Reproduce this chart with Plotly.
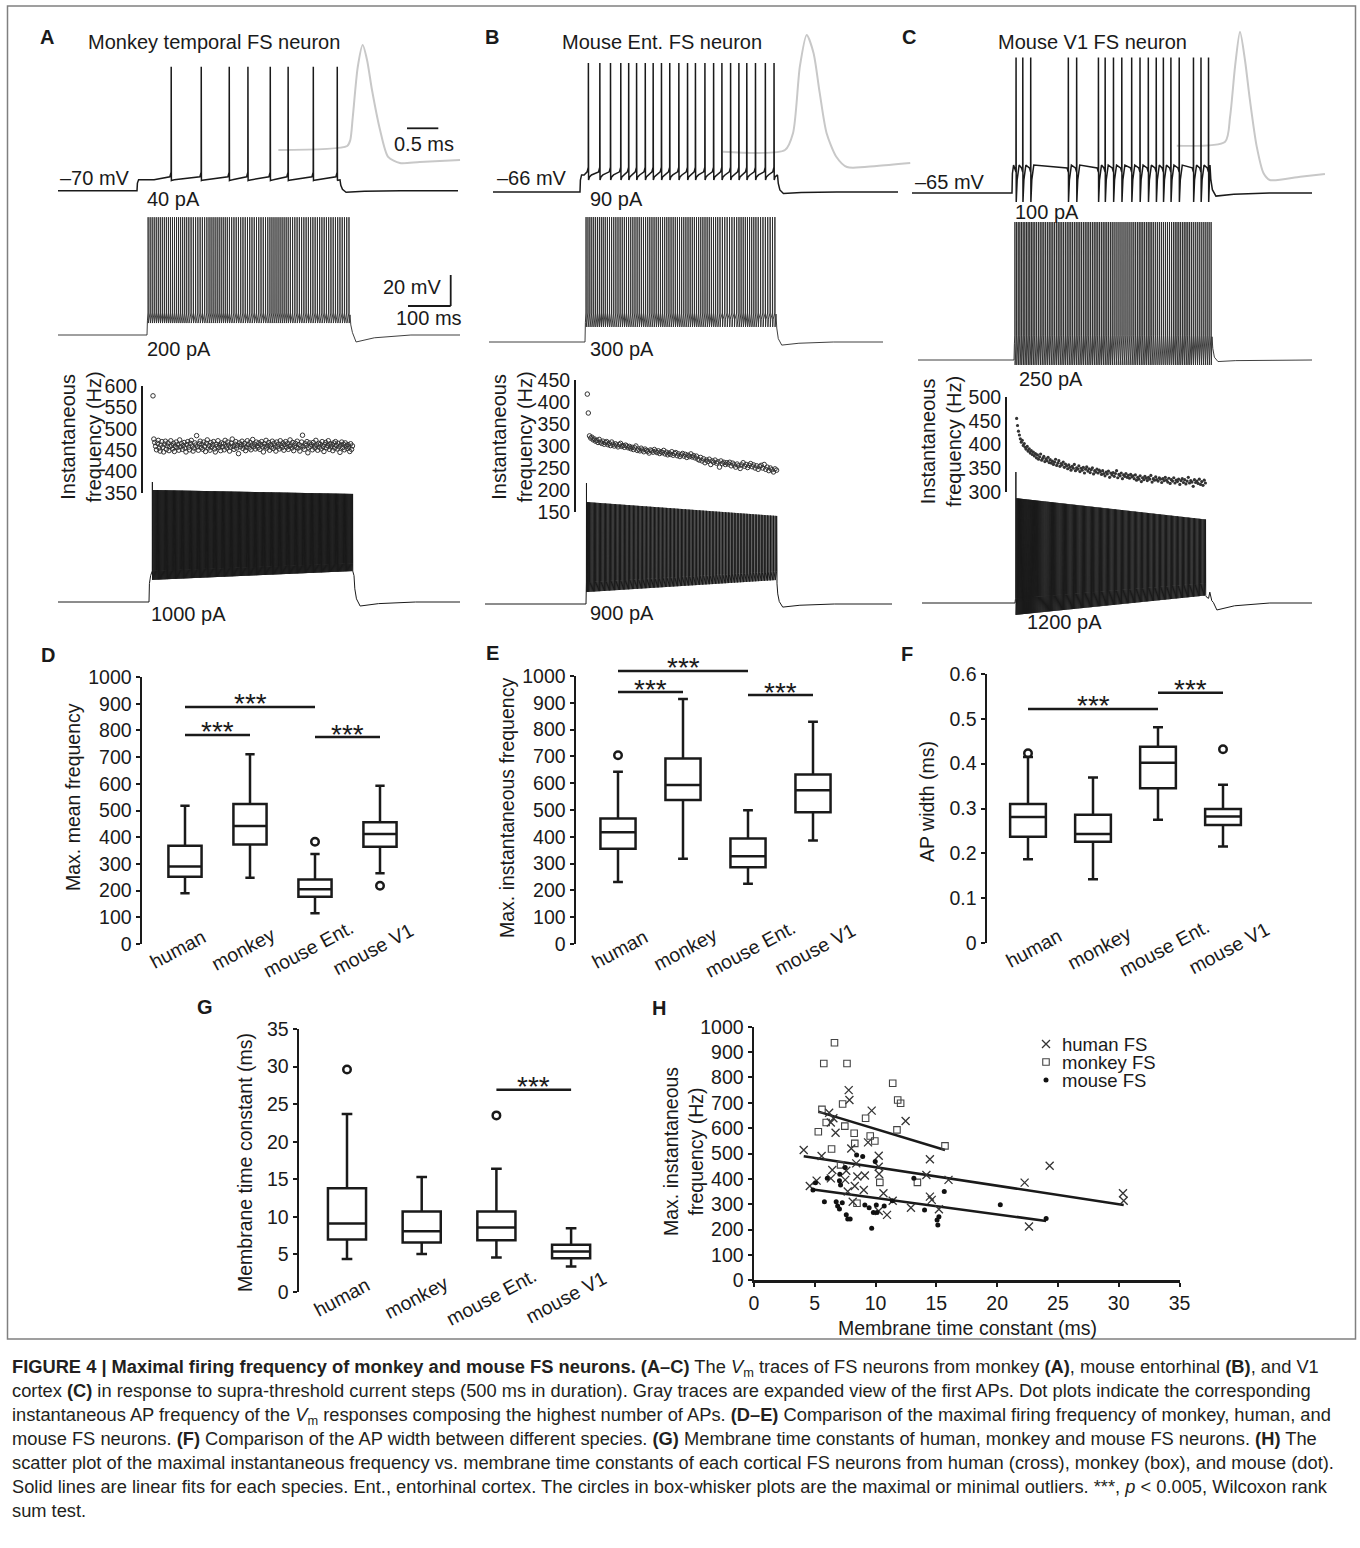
import plotly.graph_objects as go

W, H = 1360, 1548
FONT = "Liberation Sans, Arial, Helvetica, sans-serif"
INK = "#1a1a1a"
AP_GRAY = "#c8c8c8"

# ============================ DATA ============================
# ---- Panels A-C
A_title, B_title, C_title = "Monkey temporal FS neuron", "Mouse Ent. FS neuron", "Mouse V1 FS neuron"
A_rest_label, B_rest_label, C_rest_label = "–70 mV", "–66 mV", "–65 mV"
A_steps = ["40 pA", "200 pA", "1000 pA"]
B_steps = ["90 pA", "300 pA", "900 pA"]
C_steps = ["100 pA", "250 pA", "1200 pA"]

# near-threshold responses: spike times (ms after current onset)
A_top_spikes_ms = [84, 158, 227, 273, 328, 372, 434, 493]
B_top_spikes_ms = [21, 50, 77, 103, 123, 143, 165, 185, 206, 227, 250, 272,
                   292, 316, 338, 359, 381, 402, 422, 444, 469, 491]
C_top_spikes_ms = [10, 27, 47, 142, 163, 218, 235, 256, 277, 302, 323, 344,
                   364, 382, 401, 422, 458, 477, 496]

# intermediate responses: number of spikes in successive 50-ms bins of the 500-ms step
A_mid_counts = [10, 10, 9, 10, 9, 9, 10, 9, 9, 9]
B_mid_counts = [10, 9, 9, 9, 9, 9, 9, 8, 9, 8]
C_mid_counts = [12, 11, 11, 11, 11, 10, 11, 10, 11, 10]

# strongest responses: latency of the first AP (ms) and instantaneous frequency (Hz) of each later AP
A_first_ms = 8
A_freq_hz = [577, 476, 468, 459, 451, 466, 473, 455, 448, 462, 470, 457, 446, 464, 471, 452, 460, 467, 449, 458,
             472, 461, 453, 466, 447, 459, 469, 456, 463, 450, 474, 458, 465, 452, 461, 468, 455, 446, 463, 470,
             457, 451, 466, 473, 460, 448, 455, 467, 462, 484, 458, 450, 465, 471, 456, 463, 452, 469, 459, 447,
             466, 474, 455, 461, 450, 468, 457, 463, 470, 453, 446, 464, 459, 472, 456, 462, 449, 467, 458, 465,
             451, 473, 460, 455, 469, 462, 448, 457, 466, 476, 459, 452, 464, 470, 455, 461, 442, 467, 458, 463,
             471, 454, 460, 466, 449, 457, 472, 463, 455, 468, 451, 462, 475, 458, 464, 453, 469, 460, 456, 467,
             452, 463, 470, 458, 446, 465, 459, 473, 455, 461, 468, 450, 463, 457, 471, 454, 466, 460, 448, 469,
             458, 464, 453, 472, 461, 456, 467, 450, 463, 470, 457, 465, 452, 459, 474, 462, 455, 468, 449, 460,
             466, 457, 471, 455, 463, 448, 460, 469, 485, 458, 452, 465, 461, 470, 444, 456, 467, 459, 463, 451,
             468, 460, 455, 473, 462, 450, 466, 457, 464, 453, 470, 459, 447, 463, 468, 456, 461, 472, 452, 465,
             458, 463, 449, 467, 455, 470, 461, 453, 466, 458, 445, 462, 469, 456, 464, 451, 467, 460, 454, 463,
             458, 447, 465, 452, 460]
B_first_ms = 1
B_freq_hz = [418, 375,
             323, 318, 320, 314, 316, 311, 313, 308, 315, 309, 306, 311, 304, 308, 310, 303, 306, 301, 309, 304,
             300, 305, 302, 298, 303, 306, 299, 301, 297, 302, 300, 296,
             299, 294, 297, 292, 296, 300, 290, 293, 289, 295, 291, 287, 293, 290, 288, 284, 291, 289, 286, 292,
             288, 285, 289, 283, 287,
             285, 290, 282, 286, 280, 284, 281, 287, 279, 283, 285, 278, 282, 276, 280, 283, 277, 281, 274, 279,
             276, 282, 275, 278,
             273, 277, 270, 268, 274, 266, 271, 262, 268, 265, 270, 258, 266, 263, 268, 261, 264, 252, 266, 260,
             263, 258, 262,
             259, 263, 255, 261, 257, 252, 259, 255, 249, 257, 262, 254, 258, 251, 256, 260, 253, 257, 250, 255,
             247, 253,
             256, 250, 258, 247, 252, 244, 250, 246, 241, 248, 245]
C_first_ms = 2
C_freq_hz = [455, 440, 428,
             420, 412, 405, 409, 398, 402, 394, 390, 396, 386, 391, 382, 387, 379, 384,
             376, 381, 372, 378, 369, 374, 380, 367, 371, 375, 364, 370, 366, 373, 362,
             368, 361, 365, 358, 363, 369, 356, 361, 366, 354, 360, 357, 363, 352, 359,
             355, 349, 357, 352, 346, 354, 350, 358, 345, 351, 348, 355, 343, 350, 346, 352, 340, 348, 353, 344,
             349, 341, 347, 351, 338, 345, 342, 348, 340, 346,
             343, 337, 345, 339, 334, 342, 338, 344, 331, 340, 336, 341, 333, 339, 345, 330, 337, 334, 340, 328,
             336, 333, 339, 331, 335, 329, 337, 332,
             334, 328, 336, 325, 331, 327, 334, 322, 330, 326, 333, 329, 324, 331, 327, 335, 321, 328, 325, 332,
             326, 323, 330, 327, 320, 328, 324, 331,
             325, 321, 329, 318, 326, 323, 330, 319, 325, 322, 327, 316, 324, 328, 320, 326, 317, 323, 331, 319,
             324, 321, 312, 326, 320, 323, 318,
             327, 316, 322, 314, 325, 319]

# gray traces: first AP, time (ms, 0 = peak) and membrane potential (mV)
A_ap_t = [-1.36, -0.25, -0.20, -0.16, -0.08, 0.0, 0.07, 0.15, 0.28, 0.41, 0.60, 0.92, 1.57]
A_ap_v = [-55.0, -52.4, -48.5, -33.7, -1.5, 12.7, 3.1, -16.3, -42.1, -59.5, -63.4, -62.7, -61.5]
B_ap_t = [-1.35, -0.35, -0.22, -0.11, 0.0, 0.11, 0.21, 0.32, 0.48, 0.65, 1.13, 1.67]
B_ap_v = [-55.0, -53.9, -42.9, 0.0, 20.3, 8.7, -17.1, -42.9, -58.4, -64.9, -64.2, -62.3]
C_ap_t = [-1.02, -0.24, -0.16, -0.08, 0.0, 0.08, 0.16, 0.27, 0.38, 0.48, 0.97, 1.37]
C_ap_v = [-55.0, -52.4, -36.3, -4.0, 18.5, 0.3, -25.5, -55.6, -72.8, -77.1, -75.0, -73.3]

# ---- Panels D-G: box-whisker statistics
groups = ["human", "monkey", "mouse Ent.", "mouse V1"]
D_lower = [190, 248, 115, 265]
D_q1 = [252, 373, 177, 364]
D_median = [290, 442, 205, 412]
D_q3 = [368, 524, 242, 456]
D_upper = [518, 711, 337, 593]
D_out_group, D_out_value = [2, 3], [383, 218]
D_sig = [(0, 2, 888), (0, 1, 783), (2, 3, 775)]

E_lower = [231, 318, 225, 386]
E_q1 = [355, 537, 286, 492]
E_median = [417, 593, 327, 574]
E_q3 = [468, 692, 394, 632]
E_upper = [643, 914, 499, 829]
E_out_group, E_out_value = [0], [704]
E_sig = [(0, 2, 1019), (0, 1, 940), (2, 3, 929)]

F_lower = [0.187, 0.142, 0.275, 0.215]
F_q1 = [0.237, 0.226, 0.345, 0.263]
F_median = [0.281, 0.243, 0.402, 0.282]
F_q3 = [0.310, 0.286, 0.438, 0.299]
F_upper = [0.415, 0.369, 0.481, 0.353]
F_out_group, F_out_value = [0, 3], [0.423, 0.432]
F_sig = [(0, 2, 0.522), (2, 3, 0.558)]

G_lower = [4.4, 5.05, 4.6, 3.4]
G_q1 = [7.0, 6.6, 6.9, 4.5]
G_median = [9.1, 8.1, 8.6, 5.4]
G_q3 = [13.8, 10.7, 10.7, 6.3]
G_upper = [23.7, 15.3, 16.4, 8.5]
G_out_group, G_out_value = [0, 2], [29.6, 23.5]
G_sig = [(2, 3, 26.9)]

# ---- Panel H: membrane time constant (ms) vs max. instantaneous frequency (Hz)
human_tau = [7.79, 7.85, 9.68, 12.47, 6.18, 6.53, 6.32, 6.71, 9.38, 8.0, 4.09, 5.56, 10.26, 8.41, 14.47,
             6.44, 7.59, 10.26, 10.29, 9.12, 8.5, 6.32, 7.5, 5.15, 14.18, 16.0, 4.59, 8.29, 7.71, 9.03,
             10.65, 14.47, 14.62, 8.12, 11.41, 12.91, 15.21, 10.26, 10.94, 22.26, 24.32, 22.62, 30.35, 30.41]
human_freq = [750, 711, 669, 628, 661, 639, 622, 582, 544, 520, 514, 490, 491, 461, 477,
              435, 432, 448, 419, 413, 409, 402, 396, 393, 415, 396, 372, 372, 350, 356,
              343, 330, 317, 310, 314, 286, 280, 273, 258, 385, 452, 212, 343, 314]
monkey_tau = [6.62, 5.74, 7.65, 11.41, 7.29, 11.82, 12.06, 5.59, 9.18, 5.94, 5.29, 7.47, 8.24, 11.76,
              9.56, 8.29, 9.94, 6.38, 15.71, 7.12, 10.35, 13.44, 8.47]
monkey_freq = [937, 855, 855, 777, 695, 711, 698, 674, 639, 622, 586, 608, 580, 593,
               569, 540, 549, 518, 530, 455, 386, 386, 304]
mouse_tau = [8.44, 8.94, 9.97, 7.5, 7.06, 6.03, 7.03, 7.12, 13.15, 4.85, 5.06, 15.65, 5.79, 6.76, 6.88,
             7.26, 7.03, 9.12, 9.47, 10.06, 10.71, 9.82, 10.12, 11.38, 7.59, 7.71, 7.91, 9.68, 14.03,
             15.21, 15.06, 15.12, 20.26, 24.03]
mouse_freq = [494, 488, 468, 445, 418, 402, 393, 376, 402, 356, 385, 350, 310, 310, 293,
              306, 281, 297, 286, 297, 293, 267, 267, 314, 258, 242, 242, 205, 277,
              251, 238, 218, 298, 244]
# linear fits (slope Hz/ms, intercept Hz) as drawn
human_fit = (-7.32, 519.5)
monkey_fit = (-14.49, 741.7)
mouse_fit = (-6.47, 389.5)

CAPTION = [
    "<b>FIGURE 4 | Maximal firing frequency of monkey and mouse FS neurons. (A–C)</b> The <i>V</i><sub>m</sub> traces of FS neurons from monkey <b>(A)</b>, mouse entorhinal <b>(B)</b>, and V1",
    "cortex <b>(C)</b> in response to supra-threshold current steps (500 ms in duration). Gray traces are expanded view of the first APs. Dot plots indicate the corresponding",
    "instantaneous AP frequency of the <i>V</i><sub>m</sub> responses composing the highest number of APs. <b>(D–E)</b> Comparison of the maximal firing frequency of monkey, human, and",
    "mouse FS neurons. <b>(F)</b> Comparison of the AP width between different species. <b>(G)</b> Membrane time constants of human, monkey and mouse FS neurons. <b>(H)</b> The",
    "scatter plot of the maximal instantaneous frequency vs. membrane time constants of each cortical FS neurons from human (cross), monkey (box), and mouse (dot).",
    "Solid lines are linear fits for each species. Ent., entorhinal cortex. The circles in box-whisker plots are the maximal or minimal outliers. ***, <i>p</i> &lt; 0.005, Wilcoxon rank",
    "sum test.",
]

# ============================ FIGURE MACHINERY ============================
traces, annotations, shapes = [], [], []
layout = dict(width=W, height=H, autosize=False, margin=dict(l=0, r=0, t=0, b=0, pad=0, autoexpand=False),
              paper_bgcolor="white", plot_bgcolor="rgba(0,0,0,0)", showlegend=False,
              font=dict(family=FONT, size=20, color=INK), hovermode=False)
_n = [0]


def new_axes(left, top, right, bottom, xrange, yrange, xo=None, yo=None):
    _n[0] += 1
    s = "" if _n[0] == 1 else str(_n[0])
    base = dict(showgrid=False, zeroline=False, showline=False, showticklabels=False,
                ticks="", fixedrange=True, automargin=False)
    xd = dict(base, domain=[left / W, right / W], range=list(xrange), anchor="y" + s)
    yd = dict(base, domain=[1 - bottom / H, 1 - top / H], range=list(yrange), anchor="x" + s)
    if xo:
        xd.update(xo)
    if yo:
        yd.update(yo)
    layout["xaxis" + s] = xd
    layout["yaxis" + s] = yd
    return "x" + s, "y" + s


def scaled_axes(box, x_val, x_px, sx, y_val, y_px, sy):
    left, top, right, bottom = box
    xr = [x_val + (left - x_px) / sx, x_val + (right - x_px) / sx]
    yr = [y_val - (bottom - y_px) / sy, y_val + (y_px - top) / sy]
    return new_axes(left, top, right, bottom, xr, yr)


def label(x, y, text, size=20, xanchor="left", yanchor="middle", angle=0, color=INK):
    annotations.append(dict(x=x / W, y=1 - y / H, xref="paper", yref="paper", text=text,
                            showarrow=False, xanchor=xanchor, yanchor=yanchor, textangle=angle,
                            font=dict(family=FONT, size=size, color=color)))


def pline(x0, y0, x1, y1, width=1.6, color=INK):
    shapes.append(dict(type="line", xref="paper", yref="paper", x0=x0 / W, y0=1 - y0 / H,
                       x1=x1 / W, y1=1 - y1 / H, line=dict(color=color, width=width)))


def spikes_from_counts(counts, bin_ms=50.0):
    out = []
    for b, n in enumerate(counts):
        for k in range(n):
            out.append(b * bin_ms + (k + 0.5) * bin_ms / n)
    return out


def spikes_from_freq(first, freqs):
    t = [float(first)]
    for f in freqs:
        t.append(t[-1] + 1000.0 / f)
    return t


def vm_trace(spikes, p, t_start, t_end, t_off=500.0):
    rest = p["rest"]

    def env(key, t):
        v = p[key]
        if isinstance(v, tuple):
            f = min(max(t / t_off, 0.0), 1.0)
            return v[0] + (v[1] - v[0]) * f
        return v

    spk = [s for s in spikes if 0 < s < t_off - 0.8]
    first = spk[0] if spk else t_off
    pl0 = env("plat", 0)
    T, V = [t_start, 0.0], [rest, rest]
    for tt, vv in [(1.0, rest + 0.7 * (pl0 - rest)), (4.0, pl0)]:
        if tt < first - 0.3:
            T.append(tt)
            V.append(vv)
    if spk and first > 12:
        T += [first * 0.5, first - 3]
        V += [env("plat", first * 0.5), env("plat", first) + 0.4 * (env("thr", first) - env("plat", first))]
    for i, s in enumerate(spk):
        pk = p["peak1"] if (i == 0 and "peak1" in p) else env("peak", s)
        ah, pl = env("ahp", s), env("plat", s)
        T += [s, s + 0.25, s + 0.7]
        V += [env("thr", s), pk, ah]
        nxt = spk[i + 1] if i + 1 < len(spk) else t_off
        gap = nxt - s
        if gap > 6:
            T.append(s + min(3.0, 0.3 * gap))
            V.append(ah + 0.6 * (pl - ah))
        if gap > 14:
            T += [s + 8.0, nxt - 3.0]
            V += [pl, pl + 0.4 * (env("thr", nxt) - pl)]
    plE = env("plat", t_off)
    u = p["under"]
    T += [t_off, t_off + 2, t_off + 6, t_off + 15, t_off + 60, t_off + 150, t_end]
    V += [plE, rest + 0.5 * (plE - rest), rest + 0.12 * (plE - rest), u, rest + 0.4 * (u - rest), rest, rest]
    return T, V


MV_PX = 1.55   # px per mV (20 mV bar = 31 px)
AP_PX = 62.0   # px per ms in the gray insets (0.5 ms bar = 31 px)

# waveform levels (mV) of each response
A_top_p = dict(rest=-70, plat=-63, thr=-58, ahp=-63.5, peak=10, under=-71)
A_mid_p = dict(rest=-70, plat=-57, thr=-55.8, ahp=-62.3, peak=6, under=-74.5)
A_bot_p = dict(rest=-70, plat=-53, thr=(-50, -45), ahp=(-55.8, -50), peak=(2.3, -0.3), peak1=7.4, under=-72.6)
B_top_p = dict(rest=-66, plat=-55, thr=-50, ahp=-58.3, peak=17.2, under=-67)
B_mid_p = dict(rest=-66, plat=-48, thr=-47.3, ahp=-56.3, peak=14.6, under=-68)
B_bot_p = dict(rest=-66, plat=-53, thr=(-52, -45), ahp=(-58.3, -50.5), peak=(-0.2, -9.2), peak1=12, under=-68)
C_top_p = dict(rest=-65, plat=-47, thr=-51.5, ahp=-70.8, peak=22.5, under=-67)
C_mid_p = dict(rest=-65, plat=-50, thr=-49, ahp=-68.2, peak=24, under=-66)
C_bot_p = dict(rest=-65, plat=-62, thr=(-62, -52), ahp=(-72.7, -59.8), peak=(2.7, -11.5), peak1=19.5, under=-69.5)

# ------------------------------------------------------------------------------------------
columns = [
    dict(box=(40, 25, 468, 640), letter="A", letter_xy=(47, 37), title=A_title, title_x=213.5,
         rest_label=A_rest_label, steps=A_steps,
         top=(A_top_spikes_ms, A_top_p, 137, 190.7, 0.406, 58, 458),
         mid=(spikes_from_counts(A_mid_counts), A_mid_p, 147, 335, 0.406, 58, 460),
         bot=(A_first_ms, A_freq_hz, A_bot_p, 149, 602, 0.41, 58, 460),
         rest_xy=(58, 178), step_xy=[(145, 199), (145, 349), (149, 614)],
         ap=(A_ap_t, A_ap_v, (268, 25, 466, 185), 362.7, 150.0),
         dots=dict(left=143, right=462, top=386, bottom=493, rng=(350, 600), symbol="circle-open", size=4.5),
         ytitle_xy=(80.5, 437)),
    dict(box=(478, 25, 905, 640), letter="B", letter_xy=(492, 37), title=B_title, title_x=661.7,
         rest_label=B_rest_label, steps=B_steps,
         top=(B_top_spikes_ms, B_top_p, 580, 192, 0.395, 493, 898),
         mid=(spikes_from_counts(B_mid_counts), B_mid_p, 585, 342, 0.382, 489, 883),
         bot=(B_first_ms, B_freq_hz, B_bot_p, 586, 604, 0.382, 485, 892),
         rest_xy=(495, 178), step_xy=[(588, 199), (588, 349), (588, 613)],
         ap=(B_ap_t, B_ap_v, (712, 20, 918, 185), 806.7, 151.7),
         dots=dict(left=576, right=900, top=380, bottom=512, rng=(150, 450), symbol="circle-open", size=4.5),
         ytitle_xy=(511.5, 437)),
    dict(box=(905, 25, 1345, 640), letter="C", letter_xy=(909, 37), title=C_title, title_x=1092,
         rest_label=C_rest_label, steps=C_steps,
         top=(C_top_spikes_ms, C_top_p, 1012, 193, 0.396, 912, 1312),
         mid=(spikes_from_counts(C_mid_counts), C_mid_p, 1014, 360, 0.396, 918, 1312),
         bot=(C_first_ms, C_freq_hz, C_bot_p, 1015, 603, 0.392, 922, 1312),
         rest_xy=(913, 182), step_xy=[(1013, 212), (1017, 379), (1025, 622)],
         ap=(C_ap_t, C_ap_v, (1168, 18, 1340, 192), 1240.0, 145.7),
         dots=dict(left=1007, right=1340, top=397, bottom=492, rng=(300, 500), symbol="circle", size=3.2),
         ytitle_xy=(941, 442)),
]

for col in columns:
    # gray expanded first AP (drawn first, behind the black traces)
    ap_t, ap_v, ap_box, ap_x0, ap_y0 = col["ap"]
    xa, ya = scaled_axes(ap_box, 0.0, ap_x0, AP_PX, -55.0, ap_y0, MV_PX)
    traces.append(go.Scatter(x=ap_t, y=ap_v, mode="lines", xaxis=xa, yaxis=ya, hoverinfo="skip",
                             line=dict(color=AP_GRAY, width=2, shape="spline", smoothing=0.7)))
    # near-threshold and intermediate responses
    for key, lw, lc in (("top", 1.5, INK), ("mid", 0.9, "#2a2a2a")):
        spk, p, on_px, rest_py, sx, x_a, x_b = col[key]
        xa, ya = scaled_axes(col["box"], 0.0, on_px, sx, p["rest"], rest_py, MV_PX)
        T, V = vm_trace(spk, p, (x_a - on_px) / sx, (x_b - on_px) / sx)
        traces.append(go.Scatter(x=T, y=V, mode="lines", xaxis=xa, yaxis=ya, hoverinfo="skip",
                                 line=dict(color=lc, width=lw)))
    # strongest response + instantaneous-frequency dot plot
    first, freqs, p, on_px, rest_py, sx, x_a, x_b = col["bot"]
    spk = spikes_from_freq(first, freqs)
    xa, ya = scaled_axes(col["box"], 0.0, on_px, sx, p["rest"], rest_py, MV_PX)
    T, V = vm_trace(spk, p, (x_a - on_px) / sx, (x_b - on_px) / sx)
    traces.append(go.Scatter(x=T, y=V, mode="lines", xaxis=xa, yaxis=ya, hoverinfo="skip",
                             line=dict(color=INK, width=1.0)))
    d = col["dots"]
    lo, hi = d["rng"]
    xa, ya = new_axes(d["left"], d["top"], d["right"], d["bottom"],
                      [(d["left"] - on_px) / sx, (d["right"] - on_px) / sx], [lo, hi],
                      yo=dict(showline=True, linecolor=INK, linewidth=2, showticklabels=True,
                              tickvals=list(range(lo, hi + 1, 50)), ticklabelstandoff=0,
                              tickfont=dict(family=FONT, size=19.5, color=INK)))
    if d["symbol"] == "circle-open":
        mk = dict(symbol="circle-open", size=d["size"], color="#333", line=dict(color="#333", width=1))
    else:
        mk = dict(symbol="circle", size=d["size"], color="#333")
    traces.append(go.Scatter(x=spk[1:], y=freqs, mode="markers", xaxis=xa, yaxis=ya, hoverinfo="skip",
                             marker=mk, cliponaxis=False))
    # texts
    label(col["letter_xy"][0], col["letter_xy"][1], "<b>%s</b>" % col["letter"], size=20, xanchor="center")
    label(col["title_x"], 41.7, col["title"], size=20, xanchor="center")
    label(col["rest_xy"][0], col["rest_xy"][1], col["rest_label"], size=20)
    for (sxp, syp), st in zip(col["step_xy"], col["steps"]):
        label(sxp, syp, st, size=20)
    label(col["ytitle_xy"][0], col["ytitle_xy"][1], "Instantaneous<br>frequency (Hz)", size=20,
          xanchor="center", angle=-90)

# scale bars (panel A)
pline(407, 128.3, 438.3, 128.3, width=1.8)
label(424, 144, "0.5 ms", size=20, xanchor="center")
pline(450.7, 275, 450.7, 306, width=1.8)
pline(408, 306, 450.7, 306, width=1.8)
label(443, 287, "20 mV", size=20, xanchor="right")
label(429, 318, "100 ms", size=20, xanchor="center")

# ------------------------------------------------------------------------------------------
TICKF = dict(family=FONT, size=19.5, color=INK)


def box_panel(left, right, top, bottom, first_px, spacing, yr, yticks, yticktext,
              lower, q1, med, q3, upper, out_g, out_v, sig, box_w, letter, letter_xy, ytitle, ytitle_xy,
              lab_dx):
    x0 = -(first_px - left) / spacing
    x1 = x0 + (right - left) / spacing
    xa, ya = new_axes(left, top, right, bottom, [x0, x1], yr,
                      yo=dict(showline=True, linecolor=INK, linewidth=2.5, showticklabels=True,
                              tickvals=yticks, ticktext=yticktext, ticks="outside", ticklen=4,
                              tickwidth=2, tickcolor=INK, tickfont=TICKF))
    traces.append(go.Box(x=[0, 1, 2, 3], q1=q1, median=med, q3=q3, lowerfence=lower, upperfence=upper,
                         boxpoints=False, width=box_w, whiskerwidth=0.28, fillcolor="white",
                         line=dict(color=INK, width=2.5), xaxis=xa, yaxis=ya, hoverinfo="skip"))
    traces.append(go.Scatter(x=out_g, y=out_v, mode="markers", xaxis=xa, yaxis=ya, hoverinfo="skip",
                             cliponaxis=False,
                             marker=dict(symbol="circle-open", size=7.5, color=INK,
                                         line=dict(color=INK, width=2.5))))
    # significance bars live on a companion axis with the same scale, extended upwards
    ext = 30
    xs_, ys_ = new_axes(left, top - ext, right, bottom, [x0, x1],
                        [yr[0], yr[1] + (yr[1] - yr[0]) * ext / (bottom - top)])
    for i, j, yv in sig:
        traces.append(go.Scatter(x=[i, j], y=[yv, yv], mode="lines", xaxis=xs_, yaxis=ys_, hoverinfo="skip",
                                 line=dict(color=INK, width=2.5)))
        annotations.append(dict(x=(i + j) / 2, y=yv, xref=xs_, yref=ys_, text="***", showarrow=False,
                                xanchor="center", yanchor="middle", yshift=3,
                                font=dict(family=FONT, size=28, color=INK)))
    # rotated group labels
    for k, g in enumerate(groups):
        label(first_px + k * spacing + lab_dx, bottom + 5, g, size=19.5, xanchor="center",
              yanchor="middle", angle=-28)
    label(letter_xy[0], letter_xy[1], "<b>%s</b>" % letter, size=20, xanchor="center")
    label(ytitle_xy[0], ytitle_xy[1], ytitle, size=19.5, xanchor="center", angle=-90)


box_panel(142, 412, 677, 944, 185, 65, [0, 1000], list(range(0, 1001, 100)), None,
          D_lower, D_q1, D_median, D_q3, D_upper, D_out_group, D_out_value, D_sig, 0.51,
          "D", (48, 655), "Max. mean frequency", (73, 797), -7)
box_panel(576, 846, 676, 944, 618, 65, [0, 1000], list(range(0, 1001, 100)), None,
          E_lower, E_q1, E_median, E_q3, E_upper, E_out_group, E_out_value, E_sig, 0.54,
          "E", (492, 653), "Max. instantaneous frequency", (507, 808), 2)
box_panel(987, 1257, 674, 943, 1028, 65, [0, 0.6], [0, 0.1, 0.2, 0.3, 0.4, 0.5, 0.6],
          ["0", "0.1", "0.2", "0.3", "0.4", "0.5", "0.6"],
          F_lower, F_q1, F_median, F_q3, F_upper, F_out_group, F_out_value, F_sig, 0.55,
          "F", (907, 654), "AP width (ms)", (927, 802), 6)
box_panel(299, 609, 1029, 1292, 347, 74.7, [0, 35], list(range(0, 36, 5)), None,
          G_lower, G_q1, G_median, G_q3, G_upper, G_out_group, G_out_value, G_sig, 0.51,
          "G", (205, 1007), "Membrane time constant (ms)", (245, 1163), -5)

# ------------------------------------------------------------------------------------------
# Panel H
axis_common = dict(showline=True, linecolor=INK, linewidth=2.5, showticklabels=True, ticks="outside",
                   ticklen=4, tickwidth=2, tickcolor=INK, tickfont=TICKF)
xh, yh = new_axes(754, 1026.7, 1179.5, 1280.3, [0, 35], [0, 1000],
                  xo=dict(axis_common, tickvals=list(range(0, 36, 5))),
                  yo=dict(axis_common, tickvals=list(range(0, 1001, 100))))
for fit, taus in ((monkey_fit, monkey_tau), (human_fit, human_tau), (mouse_fit, mouse_tau)):
    a, b = fit
    xs = [min(taus), max(taus)]
    traces.append(go.Scatter(x=xs, y=[a * v + b for v in xs], mode="lines", xaxis=xh, yaxis=yh,
                             hoverinfo="skip", line=dict(color=INK, width=2.5)))
MK_H = dict(symbol="x-thin", size=8, color="#333", line=dict(color="#333", width=1.3))
MK_M = dict(symbol="square-open", size=6.5, color="#444", line=dict(color="#444", width=1.1))
MK_U = dict(symbol="circle", size=5, color="#111")
traces.append(go.Scatter(x=human_tau, y=human_freq, mode="markers", xaxis=xh, yaxis=yh, hoverinfo="skip",
                         marker=MK_H, cliponaxis=False))
traces.append(go.Scatter(x=monkey_tau, y=monkey_freq, mode="markers", xaxis=xh, yaxis=yh, hoverinfo="skip",
                         marker=MK_M, cliponaxis=False))
traces.append(go.Scatter(x=mouse_tau, y=mouse_freq, mode="markers", xaxis=xh, yaxis=yh, hoverinfo="skip",
                         marker=MK_U, cliponaxis=False))
label(659, 1008, "<b>H</b>", size=20, xanchor="center")
label(683, 1152, "Max. instantaneous<br>frequency (Hz)", size=19.5, xanchor="center", angle=-90)
label(967, 1328, "Membrane time constant (ms)", size=19.5, xanchor="center")

# legend of panel H (pixel overlay axis)
xo_, yo_ = new_axes(0, 0, W, H, [0, W], [H, 0])
for (yy, mk, name) in ((1044, MK_H, "human FS"), (1062, MK_M, "monkey FS"), (1080, MK_U, "mouse FS")):
    traces.append(go.Scatter(x=[1046], y=[yy], mode="markers", xaxis=xo_, yaxis=yo_, hoverinfo="skip",
                             marker=mk))
    label(1060, yy, name, size=18.5)

# frame around the figure
shapes.append(dict(type="rect", xref="paper", yref="paper", x0=7.5 / W, x1=1355.5 / W,
                   y0=1 - 1339 / H, y1=1 - 6 / H, line=dict(color="#808080", width=1.5)))

# caption (top-anchored so subscripts do not shift the lines)
for k, line in enumerate(CAPTION):
    label(10, 1354 + 24 * k, line, size=18.3, yanchor="top", color="#231f20")

layout["annotations"] = annotations
layout["shapes"] = shapes
fig = go.Figure(data=traces, layout=layout)
fig.write_html("out.html", config={"displayModeBar": False, "staticPlot": True},
               post_script="document.body.style.margin='0px';document.body.style.padding='0px';")
